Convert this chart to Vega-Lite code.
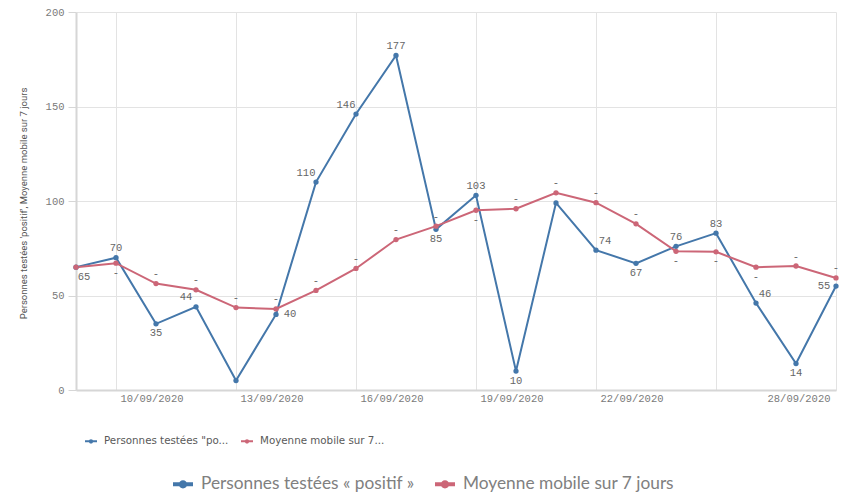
{
  "$schema": "https://vega.github.io/schema/vega-lite/v6.json",
  "width": 760,
  "height": 378,
  "autosize": {"type": "none"},
  "padding": {"left": 76, "top": 12, "right": 13, "bottom": 109},
  "background": "white",
  "config": {"view": {"stroke": null}, "font": "Open Sans"},
  "data": {
    "format": {"parse": {"date": "date"}},
    "values": [
      {"date": "2020-09-09", "series": "Personnes testées « positif »", "value": 65},
      {"date": "2020-09-10", "series": "Personnes testées « positif »", "value": 70},
      {"date": "2020-09-11", "series": "Personnes testées « positif »", "value": 35},
      {"date": "2020-09-12", "series": "Personnes testées « positif »", "value": 44},
      {"date": "2020-09-13", "series": "Personnes testées « positif »", "value": 5},
      {"date": "2020-09-14", "series": "Personnes testées « positif »", "value": 40},
      {"date": "2020-09-15", "series": "Personnes testées « positif »", "value": 110},
      {"date": "2020-09-16", "series": "Personnes testées « positif »", "value": 146},
      {"date": "2020-09-17", "series": "Personnes testées « positif »", "value": 177},
      {"date": "2020-09-18", "series": "Personnes testées « positif »", "value": 85},
      {"date": "2020-09-19", "series": "Personnes testées « positif »", "value": 103},
      {"date": "2020-09-20", "series": "Personnes testées « positif »", "value": 10},
      {"date": "2020-09-21", "series": "Personnes testées « positif »", "value": 99},
      {"date": "2020-09-22", "series": "Personnes testées « positif »", "value": 74},
      {"date": "2020-09-23", "series": "Personnes testées « positif »", "value": 67},
      {"date": "2020-09-24", "series": "Personnes testées « positif »", "value": 76},
      {"date": "2020-09-25", "series": "Personnes testées « positif »", "value": 83},
      {"date": "2020-09-26", "series": "Personnes testées « positif »", "value": 46},
      {"date": "2020-09-27", "series": "Personnes testées « positif »", "value": 14},
      {"date": "2020-09-28", "series": "Personnes testées « positif »", "value": 55},
      {"date": "2020-09-09", "series": "Moyenne mobile sur 7 jours", "value": 65},
      {"date": "2020-09-10", "series": "Moyenne mobile sur 7 jours", "value": 67.1},
      {"date": "2020-09-11", "series": "Moyenne mobile sur 7 jours", "value": 56.3},
      {"date": "2020-09-12", "series": "Moyenne mobile sur 7 jours", "value": 53},
      {"date": "2020-09-13", "series": "Moyenne mobile sur 7 jours", "value": 43.6},
      {"date": "2020-09-14", "series": "Moyenne mobile sur 7 jours", "value": 42.9},
      {"date": "2020-09-15", "series": "Moyenne mobile sur 7 jours", "value": 52.7},
      {"date": "2020-09-16", "series": "Moyenne mobile sur 7 jours", "value": 64.3},
      {"date": "2020-09-17", "series": "Moyenne mobile sur 7 jours", "value": 79.6},
      {"date": "2020-09-18", "series": "Moyenne mobile sur 7 jours", "value": 86.7},
      {"date": "2020-09-19", "series": "Moyenne mobile sur 7 jours", "value": 95.1},
      {"date": "2020-09-20", "series": "Moyenne mobile sur 7 jours", "value": 95.9},
      {"date": "2020-09-21", "series": "Moyenne mobile sur 7 jours", "value": 104.3},
      {"date": "2020-09-22", "series": "Moyenne mobile sur 7 jours", "value": 99.1},
      {"date": "2020-09-23", "series": "Moyenne mobile sur 7 jours", "value": 87.9},
      {"date": "2020-09-24", "series": "Moyenne mobile sur 7 jours", "value": 73.4},
      {"date": "2020-09-25", "series": "Moyenne mobile sur 7 jours", "value": 73.1},
      {"date": "2020-09-26", "series": "Moyenne mobile sur 7 jours", "value": 65},
      {"date": "2020-09-27", "series": "Moyenne mobile sur 7 jours", "value": 65.6},
      {"date": "2020-09-28", "series": "Moyenne mobile sur 7 jours", "value": 59.3}
    ]
  },
  "encoding": {
    "x": {
      "field": "date",
      "type": "temporal",
      "scale": {
        "type": "utc",
        "domain": [
          {"year": 2020, "month": 9, "date": 9, "utc": true},
          {"year": 2020, "month": 9, "date": 28, "utc": true}
        ]
      },
      "axis": {
        "title": null,
        "values": [
          {"year": 2020, "month": 9, "date": 10, "utc": true},
          {"year": 2020, "month": 9, "date": 13, "utc": true},
          {"year": 2020, "month": 9, "date": 16, "utc": true},
          {"year": 2020, "month": 9, "date": 19, "utc": true},
          {"year": 2020, "month": 9, "date": 22, "utc": true},
          {"year": 2020, "month": 9, "date": 25, "utc": true},
          {"year": 2020, "month": 9, "date": 28, "utc": true}
        ],
        "labelExpr": "utcdate(datum.value) == 25 ? '' : utcFormat(datum.value, '%d/%m/%Y')",
        "grid": true,
        "gridColor": "#e3e3e3",
        "gridWidth": 1,
        "ticks": false,
        "domain": true,
        "domainColor": "#d6d6d6",
        "domainWidth": 2,
        "labelFont": "Liberation Mono",
        "labelFontSize": 10.5,
        "labelColor": "#7a7a7a",
        "labelPadding": 3,
        "labelAlign": {"condition": {"test": "utcdate(datum.value) == 28", "value": "right"}, "value": "left"},
        "labelOffset": {"condition": {"test": "utcdate(datum.value) == 28", "value": -6}, "value": 4},
        "labelBaseline": "top",
        "labelOverlap": false,
        "labelBound": false,
        "labelFlush": false
      }
    },
    "y": {
      "field": "value",
      "type": "quantitative",
      "scale": {"domain": [0, 200], "nice": false, "zero": true},
      "axis": {
        "title": "Personnes testées 'positif', Moyenne mobile sur 7 jours",
        "values": [0, 50, 100, 150, 200],
        "grid": true,
        "gridColor": "#e3e3e3",
        "ticks": true,
        "tickSize": 8,
        "tickColor": "#d6d6d6",
        "domain": true,
        "domainColor": "#d6d6d6",
        "domainWidth": 2,
        "labelFont": "Liberation Mono",
        "labelFontSize": 10.5,
        "labelColor": "#7a7a7a",
        "labelPadding": 4,
        "titleFont": "Roboto",
        "titleFontSize": 9.5,
        "titleFontWeight": "normal",
        "titleColor": "#555555",
        "titleAngle": -90,
        "titleX": -53,
        "titleY": 191,
        "titleAlign": "center",
        "titleBaseline": "middle"
      }
    }
  },
  "layer": [
    {
      "mark": {"type": "line", "strokeWidth": 2},
      "encoding": {
        "stroke": {
          "field": "series",
          "type": "nominal",
          "sort": ["Personnes testées « positif »", "Moyenne mobile sur 7 jours"],
          "scale": {"range": ["#4477aa", "#cc6677"]},
          "legend": {
            "orient": "none",
            "legendX": 8,
            "legendY": 422,
            "direction": "horizontal",
            "title": null,
            "symbolType": "M-1,0L1,0M-0.2,0A0.2,0.2 0 1,0 0.2,0A0.2,0.2 0 1,0 -0.2,0",
            "symbolSize": 144,
            "symbolStrokeWidth": 2,
            "labelFont": "DejaVu Sans",
            "labelFontSize": 10.3,
            "labelColor": "#595959",
            "labelOffset": 6,
            "labelLimit": 300,
            "columnPadding": 8,
            "labelExpr": "indexof(datum.label, 'Personnes') == 0 ? 'Personnes testées \"po...' : 'Moyenne mobile sur 7...'"
          }
        }
      }
    },
    {
      "mark": {"type": "point", "filled": true, "size": 28, "opacity": 1},
      "encoding": {
        "fill": {
          "field": "series",
          "type": "nominal",
          "scale": {
            "domain": ["Personnes testées « positif »", "Moyenne mobile sur 7 jours"],
            "range": ["#4477aa", "#cc6677"]
          },
          "legend": {
            "orient": "none",
            "legendX": 97,
            "legendY": 462,
            "direction": "horizontal",
            "title": null,
            "symbolType": "M-1,-0.2L1,-0.2L1,0.2L-1,0.2Z M-0.42,0A0.42,0.42 0 1,1 0.42,0A0.42,0.42 0 1,1 -0.42,0Z",
            "symbolSize": 400,
            "symbolStrokeWidth": 0,
            "symbolOpacity": 1,
            "labelFont": "Lato",
            "labelFontSize": 17.3,
            "labelColor": "#808080",
            "labelOffset": 8,
            "labelLimit": 400,
            "columnPadding": 20
          }
        }
      }
    },
    {
      "transform": [{"filter": "indexof(datum.series, 'Personnes') == 0 && indexof([10, 17, 19, 24, 25], utcdate(datum.date)) >= 0"}],
      "mark": {"type": "text", "dy": -9.5, "font": "Liberation Mono", "fontSize": 10.5, "fill": "#666666"},
      "encoding": {"text": {"field": "value", "type": "quantitative"}}
    },
    {
      "transform": [{"filter": "indexof(datum.series, 'Personnes') == 0 && indexof([12, 15, 16], utcdate(datum.date)) >= 0"}],
      "mark": {"type": "text", "dx": -10, "dy": -9.5, "font": "Liberation Mono", "fontSize": 10.5, "fill": "#666666"},
      "encoding": {"text": {"field": "value", "type": "quantitative"}}
    },
    {
      "transform": [{"filter": "indexof(datum.series, 'Personnes') == 0 && indexof([22, 26], utcdate(datum.date)) >= 0"}],
      "mark": {"type": "text", "dx": 9, "dy": -9.5, "font": "Liberation Mono", "fontSize": 10.5, "fill": "#666666"},
      "encoding": {"text": {"field": "value", "type": "quantitative"}}
    },
    {
      "transform": [{"filter": "indexof(datum.series, 'Personnes') == 0 && indexof([11, 18, 20, 23, 27], utcdate(datum.date)) >= 0"}],
      "mark": {"type": "text", "dy": 9.5, "font": "Liberation Mono", "fontSize": 10.5, "fill": "#666666"},
      "encoding": {"text": {"field": "value", "type": "quantitative"}}
    },
    {
      "transform": [{"filter": "indexof(datum.series, 'Personnes') == 0 && indexof([9], utcdate(datum.date)) >= 0"}],
      "mark": {"type": "text", "dx": 8, "dy": 10, "font": "Liberation Mono", "fontSize": 10.5, "fill": "#666666"},
      "encoding": {"text": {"field": "value", "type": "quantitative"}}
    },
    {
      "transform": [{"filter": "indexof(datum.series, 'Personnes') == 0 && indexof([14], utcdate(datum.date)) >= 0"}],
      "mark": {"type": "text", "dx": 14, "dy": 0, "font": "Liberation Mono", "fontSize": 10.5, "fill": "#666666"},
      "encoding": {"text": {"field": "value", "type": "quantitative"}}
    },
    {
      "transform": [{"filter": "indexof(datum.series, 'Personnes') == 0 && indexof([28], utcdate(datum.date)) >= 0"}],
      "mark": {"type": "text", "dx": -12, "dy": 0, "font": "Liberation Mono", "fontSize": 10.5, "fill": "#666666"},
      "encoding": {"text": {"field": "value", "type": "quantitative"}}
    },
    {
      "transform": [{"filter": "indexof(datum.series, 'Moyenne') == 0 && indexof([11, 12, 13, 14, 15, 16, 17, 18, 20, 21, 22, 23, 27, 28], utcdate(datum.date)) >= 0"}],
      "mark": {"type": "text", "dy": -9.5, "font": "Liberation Mono", "fontSize": 10.5, "fill": "#666666"},
      "encoding": {"text": {"value": "-"}}
    },
    {
      "transform": [{"filter": "indexof(datum.series, 'Moyenne') == 0 && indexof([10, 19, 24, 25, 26], utcdate(datum.date)) >= 0"}],
      "mark": {"type": "text", "dy": 9.5, "font": "Liberation Mono", "fontSize": 10.5, "fill": "#666666"},
      "encoding": {"text": {"value": "-"}}
    }
  ]
}
